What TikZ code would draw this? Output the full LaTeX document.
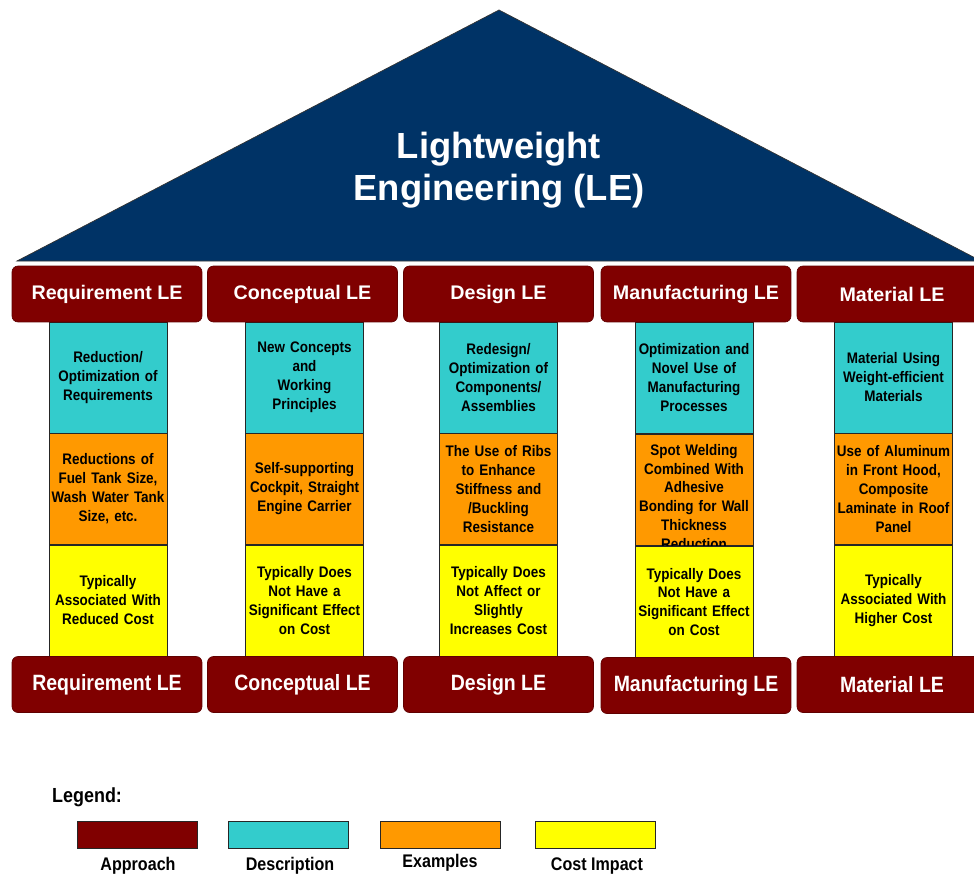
\documentclass[tikz,border=0pt]{standalone}
\usepackage{fontspec}
\setmainfont{Liberation Sans}
\newfontfamily\narrowfont[FakeStretch=0.88]{Liberation Sans}
\definecolor{lenavy}{RGB}{0,51,102}
\definecolor{lemaroon}{RGB}{128,0,0}
\definecolor{lecyan}{RGB}{51,204,204}
\definecolor{leorange}{RGB}{255,153,0}
\definecolor{leyellow}{RGB}{255,255,0}
\usetikzlibrary{positioning}

\tikzset{
  capbox/.style={draw=lemaroon!75!black,fill=lemaroon,rounded corners=0.12cm,
        minimum width=3.8cm,minimum height=1.12cm,inner sep=0pt,
        text=white,font=\bfseries\fontsize{11.2}{13}\selectfont},
  basebox/.style={capbox,font=\narrowfont\bfseries\fontsize{12.6}{14}\selectfont},
  block/.style={draw=black!85,thin,minimum width=2.36cm,minimum height=2.22cm,
        inner sep=0pt,align=center,text width=2.34cm,
        font=\narrowfont\bfseries\fontsize{8.7}{10.8}\selectfont},
  descr/.style={block,fill=lecyan},
  examp/.style={block,fill=leorange},
  cost/.style={block,fill=leyellow},
  legbox/.style={draw=black!85,thin,minimum width=2.4cm,minimum height=0.54cm,inner sep=0pt},
  leglabel/.style={font=\narrowfont\bfseries\fontsize{10.4}{12}\selectfont}
}

\begin{document}
\begin{tikzpicture}[x=0.02cm,y=-0.02cm]
  \useasboundingbox (0,0) rectangle (974,875);
  \clip (0,0) rectangle (974,875);

  %% Roof
  \draw[fill=lenavy,draw=black!80,thin] (17,261) -- (499,10) -- (981,261) -- cycle;
  \node[text=white,align=center,font=\bfseries\fontsize{20.7}{23.8}\selectfont]
        (roof) at (499,170) {Lightweight\\Engineering (LE)};

  %% Requirement pillar
  \node[descr] (reqDesc) at (108,377.5) {Reduction/\\Optimization of\\Requirements};
  \node[examp] (reqEx)   at (108,489)   {Reductions of\\Fuel Tank Size,\\Wash Water Tank\\Size, etc.};
  \node[cost]  (reqCost) at (108,600.5) {Typically\\Associated With\\Reduced Cost};

  %% Conceptual pillar
  \node[descr] (conDesc) at (304.5,377.5) {New Concepts\\and\\Working\\Principles};
  \node[examp] (conEx)   at (304.5,489)   {Self-supporting\\Cockpit, Straight\\Engine Carrier};
  \node[cost]  (conCost) at (304.5,600.5) {Typically Does\\Not Have a\\Significant Effect\\on Cost};

  %% Design pillar
  \node[descr] (desDesc) at (498.5,377.5) {Redesign/\\Optimization of\\Components/\\Assemblies};
  \node[examp] (desEx)   at (498.5,489)   {The Use of Ribs\\to Enhance\\Stiffness and\\/Buckling\\Resistance};
  \node[cost]  (desCost) at (498.5,600.5) {Typically Does\\Not Affect or\\Slightly\\Increases Cost};

  %% Manufacturing pillar (last example line runs under the cost block)
  \node[descr] (manDesc) at (694,377.5) {Optimization and\\Novel Use of\\Manufacturing\\Processes};
  \node[examp] (manEx)   at (694,490) {};
  \node[align=center,text width=2.34cm,inner sep=0pt,
        font=\narrowfont\bfseries\fontsize{8.7}{10.8}\selectfont]
        (manExText) at (694,497) {Spot Welding\\Combined With\\Adhesive\\Bonding for Wall\\Thickness\\Reduction};
  \node[cost]  (manCost) at (694,602) {Typically Does\\Not Have a\\Significant Effect\\on Cost};

  %% Material pillar
  \node[descr] (matDesc) at (893.5,377.5) {Material Using\\Weight-efficient\\Materials};
  \node[examp] (matEx)   at (893.5,489)   {Use of Aluminum\\in Front Hood,\\Composite\\Laminate in Roof\\Panel};
  \node[cost]  (matCost) at (893.5,600.5) {Typically\\Associated With\\Higher Cost};

  %% Capitals
  \node[capbox] (reqTop) at (107,294)   {Requirement LE};
  \node[capbox] (conTop) at (302.5,294) {Conceptual LE};
  \node[capbox] (desTop) at (498.5,294) {Design LE};
  \node[capbox] (manTop) at (696,294)   {Manufacturing LE};
  \node[capbox] (matTop) at (892,294)   {Material LE};

  %% Bases
  \node[basebox] (reqBase) at (107,684.5)   {Requirement LE};
  \node[basebox] (conBase) at (302.5,684.5) {Conceptual LE};
  \node[basebox] (desBase) at (498.5,684.5) {Design LE};
  \node[basebox] (manBase) at (696,685.5)   {Manufacturing LE};
  \node[basebox] (matBase) at (892,684.5)   {Material LE};

  %% Legend
  \node[anchor=west,font=\narrowfont\bfseries\fontsize{11.6}{13}\selectfont]
        (legend) at (46,797) {Legend:};
  \node[legbox,fill=lemaroon]  (legApp)  at (137,834.5)   {};
  \node[legbox,fill=lecyan]    (legDesc) at (288,834.5)   {};
  \node[legbox,fill=leorange]  (legEx)   at (440,834.5)   {};
  \node[legbox,fill=leyellow]  (legCost) at (595.5,834.5) {};
  \node[leglabel] (legAppText)  at (138,866) {Approach};
  \node[leglabel] (legDescText) at (290,866) {Description};
  \node[leglabel] (legExText)   at (440,863) {Examples};
  \node[leglabel] (legCostText) at (597,866) {Cost Impact};
\end{tikzpicture}
\end{document}
